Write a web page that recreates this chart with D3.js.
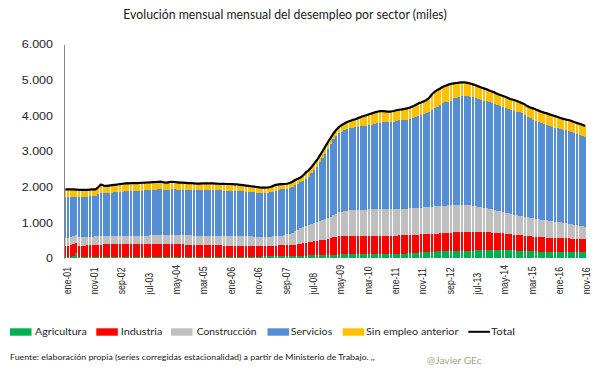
<!DOCTYPE html>
<html><head><meta charset="utf-8">
<script src="https://cdn.jsdelivr.net/npm/d3@7"></script>
<style>body{margin:0;background:#fff} svg{display:block}</style>
</head><body><svg id="c" width="605" height="378"></svg>
<script>
// ---------- DATA (miles) ----------
const monthNames = ['ene','feb','mar','abr','may','jun','jul','ago','sep','oct','nov','dic'];
const yearLabels = ['01','02','03','04','05','06','07','08','09','10','11','12','13','14','15','16'];
const tickLabels = ['ene-01','nov-01','sep-02','jul-03','may-04','mar-05','ene-06','nov-06','sep-07','jul-08',
  'may-09','mar-10','ene-11','nov-11','sep-12','jul-13','may-14','mar-15','ene-16','nov-16'];
const yTicks = [0,1000,2000,3000,4000,5000,6000];
const seriesNames = ['Agricultura','Industria','Construcción','Servicios','Sin empleo anterior'];

const agricultura = [
 45,45,46,70,157,46,46,46,46,47,47,47,
 47,47,47,48,48,48,48,48,48,49,49,49,
 49,49,49,50,50,50,50,50,50,50,50,50,
 50,50,50,50,50,50,50,50,50,50,50,50,
 50,50,50,50,50,50,50,50,50,50,50,50,
 50,50,50,50,50,50,50,50,50,50,50,50,
 52,54,56,58,60,62,64,66,68,70,72,73,
 74,75,76,77,78,79,80,81,82,83,84,85,
 87,89,92,98,105,110,112,112,112,112,112,112,
 112,112,112,112,112,112,112,112,112,113,114,115,
 117,120,123,127,132,138,144,150,156,162,168,172,
 176,180,184,188,192,195,198,200,202,204,205,206,
 208,210,212,214,216,218,220,222,224,226,228,230,
 231,232,233,232,230,228,225,222,219,216,213,210,
 206,202,198,195,192,190,188,187,186,185,185,185,
 185,185,185,185,185,184,183,182,181,180,180];
const industria = [
 308,308,314,330,280,309,309,311,314,318,323,328,
 333,338,343,344,344,344,344,344,344,343,343,343,
 345,346,347,347,348,349,350,350,350,350,350,350,
 350,350,348,346,344,342,340,338,336,334,332,330,
 328,326,324,322,320,318,316,314,312,310,308,306,
 305,304,303,302,301,300,300,300,300,299,298,297,
 294,291,290,290,292,294,296,298,300,301,301,303,
 308,317,329,343,357,371,385,397,408,419,429,440,
 458,481,498,507,515,518,522,522,522,522,522,522,
 522,522,522,522,522,522,522,522,522,521,520,519,
 519,518,517,516,515,513,511,509,507,505,502,501,
 500,500,501,502,503,505,507,510,513,516,520,524,
 527,530,532,532,530,528,524,520,516,510,504,498,
 491,484,477,472,468,462,457,452,447,442,437,432,
 428,424,420,415,412,408,404,400,396,393,390,387,
 384,381,378,375,372,370,368,366,364,363,361];
const construccion = [
 224,227,230,220,216,230,235,238,240,240,240,240,
 238,235,230,228,230,230,231,232,233,233,233,234,
 233,233,234,235,236,237,238,240,242,245,248,252,
 253,253,254,255,256,257,258,258,258,258,258,258,
 258,258,258,258,258,259,260,261,263,265,267,269,
 270,270,270,270,269,268,266,264,262,261,260,260,
 260,260,260,260,260,262,265,271,282,297,317,344,
 378,408,435,450,465,480,495,512,530,548,561,575,
 585,600,620,645,665,682,696,706,714,721,726,728,
 731,733,734,736,738,739,739,739,739,738,738,739,
 739,740,742,743,743,744,745,747,749,751,754,757,
 760,762,763,764,765,766,767,768,769,768,766,763,
 759,754,748,742,736,728,720,710,698,686,674,662,
 650,638,626,614,602,592,582,572,562,552,542,534,
 526,519,513,508,502,497,492,486,480,473,465,458,
 451,442,431,420,409,398,387,376,366,355,345];
const servicios = [
 1150,1145,1132,1100,1065,1131,1130,1130,1130,1130,1130,1130,
 1172,1219,1210,1210,1213,1218,1225,1231,1237,1245,1251,1254,
 1257,1260,1262,1264,1266,1269,1272,1275,1278,1280,1282,1282,
 1272,1262,1273,1283,1280,1276,1272,1274,1274,1274,1274,1276,
 1276,1278,1282,1286,1288,1287,1286,1285,1281,1278,1275,1273,
 1271,1269,1267,1264,1260,1257,1254,1251,1246,1240,1232,1223,
 1219,1217,1222,1237,1258,1282,1295,1295,1284,1277,1275,1287,
 1300,1295,1290,1310,1330,1357,1420,1485,1547,1640,1729,1830,
 1930,2030,2126,2170,2215,2239,2260,2280,2297,2310,2320,2328,
 2335,2343,2352,2365,2378,2392,2411,2427,2442,2457,2458,2457,
 2460,2472,2488,2491,2490,2495,2510,2534,2557,2572,2593,2620,
 2644,2668,2712,2750,2790,2831,2872,2892,2906,2932,2993,3007,
 3026,3055,3057,3052,3048,3039,3026,3013,3002,2996,2994,3000,
 2993,2981,2964,2947,2935,2923,2911,2904,2897,2900,2898,2884,
 2850,2815,2789,2762,2739,2715,2696,2687,2678,2669,2650,2630,
 2620,2612,2606,2605,2604,2598,2582,2566,2549,2532,2514];
const sinEmpleoAnterior = [
 207,209,210,210,207,204,198,193,190,190,190,190,
 200,231,210,200,205,210,212,215,218,220,224,222,
 221,220,218,216,218,215,215,215,215,215,215,213,
 205,205,210,213,210,205,200,200,197,194,191,186,
 183,183,186,186,186,186,186,185,184,185,185,185,
 187,187,185,184,180,175,170,165,162,160,160,160,
 157,157,157,155,160,160,154,150,149,145,145,140,
 135,135,135,150,180,188,180,185,188,190,197,200,
 200,180,164,180,180,187,190,200,205,215,220,240,
 260,280,290,305,314,325,326,325,314,291,280,285,
 295,300,295,299,310,314,320,320,331,354,353,350,
 360,390,440,466,470,463,466,470,480,470,421,415,
 405,384,381,380,370,364,360,355,350,347,337,315,
 310,310,310,312,315,315,315,310,312,300,290,285,
 300,300,305,324,325,330,330,325,324,315,320,325,
 320,315,310,305,307,300,300,305,310,315,312];
const total = [
 1934,1934,1932,1930,1925,1920,1918,1918,1920,1925,1930,1935,
 1990,2070,2040,2030,2040,2050,2060,2070,2080,2090,2100,2102,
 2105,2108,2110,2112,2118,2120,2125,2130,2135,2140,2145,2147,
 2130,2120,2135,2147,2140,2130,2120,2120,2115,2110,2105,2100,
 2095,2095,2100,2102,2102,2100,2098,2095,2090,2088,2085,2083,
 2083,2080,2075,2070,2060,2050,2040,2030,2020,2010,2000,1990,
 1982,1979,1985,2000,2030,2060,2074,2080,2083,2090,2110,2147,
 2195,2230,2265,2330,2410,2475,2560,2660,2755,2880,3000,3130,
 3260,3380,3500,3600,3680,3736,3780,3820,3850,3880,3900,3930,
 3960,3990,4010,4040,4064,4090,4110,4125,4129,4120,4110,4115,
 4130,4150,4165,4176,4190,4204,4230,4260,4300,4344,4370,4400,
 4440,4500,4600,4670,4720,4760,4810,4840,4870,4890,4905,4915,
 4925,4933,4930,4920,4900,4877,4850,4820,4790,4765,4737,4705,
 4675,4645,4610,4577,4550,4520,4490,4460,4437,4410,4380,4345,
 4310,4260,4225,4204,4170,4140,4110,4085,4064,4035,4010,3985,
 3960,3935,3910,3890,3877,3850,3820,3795,3770,3745,3712];

// ---------- BUILD ----------
const categories = [];
yearLabels.forEach(yy => monthNames.forEach(m => categories.push(m + '-' + yy)));
categories.length = agricultura.length;

const seriesArrays = [agricultura, industria, construccion, servicios, sinEmpleoAnterior];
const colors = ['#00B050','#FF0000','#BFBFBF','#558ED5','#FFC000'];
const table = categories.map((c, i) => {
  const row = {cat: c, total: total[i]};
  seriesNames.forEach((s, k) => row[s] = seriesArrays[k][i]);
  return row;
});

const W = 605, H = 378;
const plot = {left: 64, right: 586.5, top: 44.3, bottom: 258.3};
const SQ = 0.84; // vertical squash of text in reference
const FONT = 'Liberation Sans, Arial, sans-serif';
const FONT2 = 'Lato, Open Sans, sans-serif';

const svg = d3.select('#c');
svg.append('rect').attr('width', W).attr('height', H).attr('fill', '#fff');

const x = d3.scaleBand().domain(categories).range([plot.left, plot.right]).paddingInner(0.17).paddingOuter(0.08);
const y = d3.scaleLinear().domain([0, 6000]).range([plot.bottom, plot.top]);

const stack = d3.stack().keys(seriesNames)(table);

const barsG = svg.append('g').attr('shape-rendering', 'crispEdges');
barsG.selectAll('g.s').data(stack).join('g').attr('class', 's')
  .attr('fill', (d, i) => colors[i])
  .selectAll('rect').data(d => d).join('rect')
  .attr('x', d => x(d.data.cat))
  .attr('width', x.bandwidth())
  .attr('y', d => y(d[1]))
  .attr('height', d => Math.max(0, y(d[0]) - y(d[1])));

// total line
const line = d3.line()
  .x(d => x(d.cat) + x.bandwidth() / 2)
  .y(d => y(d.total));
svg.append('path').datum(table)
  .attr('fill', 'none').attr('stroke', '#000').attr('stroke-width', 2.2)
  .attr('stroke-linejoin', 'round')
  .attr('d', line);

// y axis
const loc = d3.formatLocale({decimal: ',', thousands: '.', grouping: [3], currency: ['', '']});
const yAxis = d3.axisLeft(y).tickValues(yTicks).tickFormat(loc.format(',')).tickSize(0).tickPadding(11);
const yg = svg.append('g').attr('transform', `translate(${plot.left},0)`).call(yAxis);
yg.select('.domain').attr('stroke', '#868686').attr('stroke-width', 1);
yg.selectAll('text')
  .attr('font-family', FONT).attr('font-size', 12.5).attr('fill', '#262626')
  .attr('dy', null).attr('dominant-baseline', 'central')
  .attr('transform', `scale(1,${SQ})`)
  .attr('y', 0);

// x axis
const xAxis = d3.axisBottom(x).tickValues(tickLabels).tickSize(0);
const xg = svg.append('g').attr('transform', `translate(0,${plot.bottom})`).call(xAxis);
xg.select('.domain').remove();
xg.selectAll('text')
  .attr('font-family', FONT).attr('font-size', 10.5).attr('fill', '#262626')
  .attr('x', 0).attr('y', 0).attr('dy', null)
  .attr('text-anchor', 'start').attr('dominant-baseline', 'central')
  .attr('transform', `translate(1.5,36) scale(1,${SQ}) rotate(-90)`);

// helper: text sized so its width matches the reference
function fitText(g, str, px, py, width, size, opts = {}) {
  const t = g.append('text')
    .attr('transform', `translate(${px},${py}) scale(1,${SQ})`)
    .attr('font-family', opts.font || FONT2)
    .attr('font-size', size)
    .attr('fill', opts.fill || '#262626')
    .attr('dominant-baseline', 'central')
    .attr('text-anchor', opts.anchor || 'start')
    .text(str);
  if (width) {
    if (opts.stretch) {
      t.attr('textLength', width).attr('lengthAdjust', 'spacingAndGlyphs');
    } else {
      const nat = t.node().getComputedTextLength();
      if (nat > 0) t.attr('font-size', (size * width / nat).toFixed(2));
    }
  }
  return t;
}

// title
fitText(svg, 'Evolución  mensual mensual del desempleo  por sector (miles)', 123.3, 14, 323.4, 15.5, {fill: '#1a1a1a', stretch: true});

// legend
const legendLayout = [
  {sx: 10, tx: 35, tw: 51.7},
  {sx: 96.3, tx: 120.7, tw: 41.6},
  {sx: 171, tx: 196.7, tw: 60},
  {sx: 267.5, tx: 290.7, tw: 41.6},
  {sx: 342.7, tx: 366, tw: 92.3}
];
const lg = svg.append('g');
seriesNames.forEach((s, i) => {
  const L = legendLayout[i];
  lg.append('rect').attr('x', L.sx).attr('y', 328.3).attr('width', 21.5).attr('height', 7.4).attr('fill', colors[i]);
  fitText(lg, s, L.tx, 331.8, L.tw, 13.5);
});
lg.append('line').attr('x1', 468.3).attr('x2', 490).attr('y1', 331.8).attr('y2', 331.8)
  .attr('stroke', '#000').attr('stroke-width', 2);
fitText(lg, 'Total', 491, 331.8, 24, 13.5);

// footnote
fitText(svg, 'Fuente:  elaboración propia (series corregidas estacionalidad) a partir de Ministerio de Trabajo. ,,', 10, 357.7, 365, 11, {fill: '#1a1a1a'});
fitText(svg, '@Javier GEc', 426.7, 360.8, 55, 12.5, {fill: '#A9A38A'});
</script></body></html>
